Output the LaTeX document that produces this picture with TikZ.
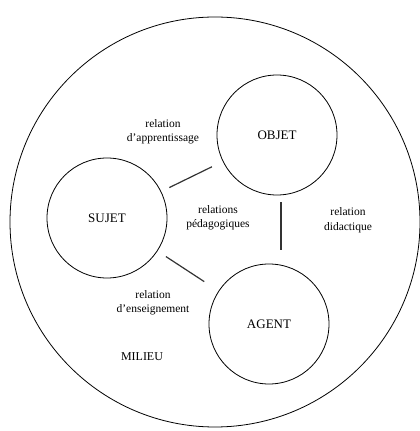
\documentclass[tikz,border=0pt]{standalone}
\usepackage{fontspec}
\setmainfont{Liberation Serif}
\usepackage{tikz}

\begin{document}
\begin{tikzpicture}[
			     x=1pt, y=1pt,
			     pole/.style={circle, draw, line width=0.8pt, minimum size=120pt, inner sep=0pt, font=\fontsize{13}{15}\selectfont},
			     descr/.style={align=center, font=\fontsize{11.5}{14.5}\selectfont},
			     relation line/.style={line width=1.2pt, draw=black!80}
			     ]
\useasboundingbox (0,0) rectangle (420,431);
\draw[line width=0.8pt] (215,209) circle (205);
% les trois poles
\node[pole] (sujet) at (107,213) {SUJET};
\node[pole] (objet) at (277,296) {OBJET};
\node[pole] (agent) at (269,107) {AGENT};
% relations
\path[relation line] (sujet) edge[shorten <=9pt, shorten >=12pt] (objet);
\path[relation line] (sujet) edge[shorten <=10pt, shorten >=17pt] (agent);
\path[relation line] ([xshift=4pt]objet.south) edge[shorten <=7pt, shorten >=14pt] ([xshift=4pt]objet.south |- agent.north);
% textes
\node[descr] (apprent) at (163,299) {relation\\d'apprentissage};
\node[descr] (pedago) at (218,213) {relations\\pédagogiques};
\node[descr] (didact) at (348,211) {relation\\didactique};
\node[descr] (enseign) at (153,128) {relation\\d'enseignement};
\node[font=\fontsize{12}{14}\selectfont] (milieu) at (142,74) {MILIEU};
\end{tikzpicture}
\end{document}
